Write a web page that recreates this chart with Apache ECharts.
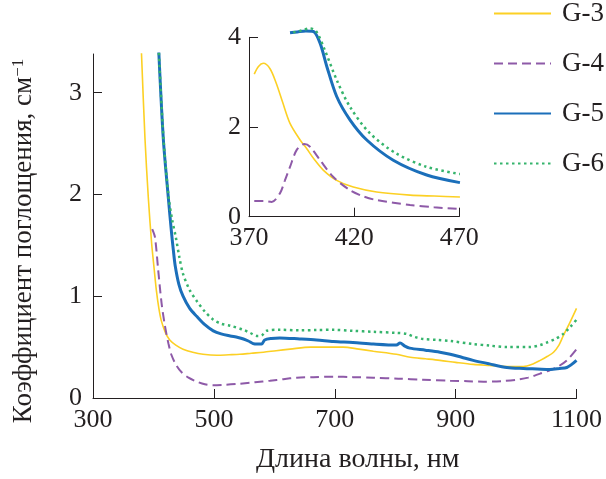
<!DOCTYPE html>
<html>
<head>
<meta charset="utf-8">
<script src="https://cdn.jsdelivr.net/npm/echarts@6/dist/echarts.min.js"></script>
<style>
html, body { margin: 0; padding: 0; background: #fff; }
#chart { width: 606px; height: 479px; }
</style>
</head>
<body>
<div id="chart"></div>
<script>
// series names
var names = ['G-3', 'G-4', 'G-5', 'G-6'];

// main chart, [wavelength nm, coefficient cm-1]
var g3Main = [[380,3.42],[386,2.55],[391.5,1.97],[397,1.52],[401,1.28],[405,1.05],[409,0.88],[413,0.76],[420,0.64],[427,0.57],[437,0.52],[449,0.48],[465,0.45],[482,0.43],[505,0.42],[525,0.425],[543,0.43],[562,0.44],[582,0.45],[603,0.465],[626,0.48],[660,0.5],[690,0.5],[714,0.5],[740,0.48],[764,0.46],[802,0.43],[825,0.4],[850,0.385],[874,0.37],[900,0.35],[929,0.33],[956,0.32],[985,0.31],[1012,0.31],[1028,0.335],[1040,0.37],[1052,0.41],[1062,0.45],[1071,0.52],[1078,0.61],[1089,0.74],[1100,0.88]];
var g4Main = [[398,1.66],[402.5,1.58],[408,1.25],[413.5,0.93],[419,0.71],[425,0.53],[430,0.42],[438,0.32],[447,0.25],[458,0.2],[472,0.16],[485,0.135],[499,0.125],[520,0.13],[543,0.14],[568,0.155],[593,0.17],[615,0.185],[637,0.2],[665,0.205],[698,0.21],[730,0.205],[764,0.2],[805,0.19],[846,0.18],[891,0.17],[920,0.165],[946,0.16],[975,0.165],[1001,0.18],[1020,0.2],[1040,0.24],[1055,0.27],[1067,0.3],[1084,0.37],[1100,0.48]];
var g5Main = [[408.5,3.45],[416.3,2.55],[424.6,1.97],[430,1.62],[433,1.45],[436,1.3],[442,1.12],[449,1.0],[460,0.88],[472,0.8],[485,0.72],[499,0.66],[512,0.63],[527,0.61],[540,0.595],[549,0.58],[557,0.56],[565,0.535],[572,0.53],[579,0.53],[584,0.57],[595,0.585],[609,0.59],[642,0.58],[670,0.57],[698,0.555],[730,0.545],[764,0.53],[802,0.52],[808,0.54],[816,0.51],[824,0.49],[850,0.47],[874,0.45],[891,0.43],[910,0.4],[929,0.37],[956,0.335],[985,0.3],[1012,0.29],[1035,0.285],[1056,0.28],[1072,0.29],[1084,0.3],[1092,0.33],[1100,0.37]];
var g6Main = [[408.5,3.45],[416.5,2.56],[425,1.98],[431,1.75],[437,1.58],[443,1.38],[449,1.22],[460,1.06],[472,0.95],[485,0.85],[499,0.77],[512,0.73],[527,0.71],[549,0.67],[560,0.64],[571,0.61],[579,0.615],[587,0.66],[609,0.67],[642,0.665],[670,0.668],[698,0.67],[730,0.66],[764,0.65],[802,0.64],[819,0.63],[832,0.6],[846,0.58],[870,0.57],[891,0.56],[929,0.53],[956,0.515],[985,0.5],[1023,0.5],[1040,0.52],[1051,0.545],[1065,0.58],[1078,0.63],[1090,0.7],[1100,0.77]];

// inset, 370-470 nm
var g3Inset = [[372.5,3.18],[374.5,3.35],[376.8,3.42],[380,3.3],[383,2.97],[386,2.55],[389.5,2.08],[394.3,1.71],[397.4,1.52],[401,1.28],[405.3,1.04],[411.7,0.81],[419.6,0.66],[430.7,0.55],[446.6,0.48],[458,0.46],[470.3,0.44]];
var g4Inset = [[372.5,0.35],[377,0.35],[380.8,0.33],[384.7,0.52],[387,0.8],[389.5,1.11],[392.7,1.49],[396.3,1.62],[399,1.56],[403.8,1.26],[410,0.89],[418,0.59],[424,0.46],[430.7,0.37],[446.6,0.26],[458,0.21],[470.3,0.17]];
var g5Inset = [[389.5,4.1],[393,4.12],[397,4.14],[400.6,4.13],[403.8,3.87],[407,3.35],[411.7,2.68],[418,2.16],[426,1.71],[438.6,1.26],[454.5,0.93],[470.3,0.76]];
var g6Inset = [[391,4.11],[395,4.15],[399,4.2],[402,4.13],[406,3.72],[411.7,3.05],[418,2.45],[427.5,1.86],[440,1.41],[454.5,1.11],[470.3,0.95]];

var mainYTicks = [0, 1, 2, 3];

var colors = ['#fcd024', '#8e5aa8', '#1b6fba', '#35b46c'];
var lineStyles = [
  { width: 1.6, type: 'solid' },
  { width: 2, type: [9, 5] },
  { width: 3, type: 'solid' },
  { width: 2.5, type: [2.5, 3.5] }
];

var FONT = 'Liberation Serif';
var ink = '#231f20';

function axisBase() {
  return {
    axisLine: { lineStyle: { color: ink, width: 1 } },
    axisTick: { inside: true, length: 9, lineStyle: { color: ink } },
    axisLabel: { color: ink, fontFamily: FONT, fontSize: 26, formatter: function (v) { return String(v); } },
    splitLine: { show: false }
  };
}

var mainX = axisBase();
mainX.type = 'value'; mainX.gridIndex = 0;
mainX.min = 300; mainX.max = 1100; mainX.interval = 200;
mainX.axisLabel.margin = 9;
mainX.name = 'Длина волны, нм';
mainX.nameLocation = 'middle';
mainX.nameGap = 48;
mainX.nameTextStyle = { color: ink, fontFamily: FONT, fontSize: 28, padding: [0, 0, 0, 46] };

var mainY = axisBase();
mainY.type = 'value'; mainY.gridIndex = 0;
mainY.min = 0; mainY.max = 3.38;
mainY.axisTick.customValues = mainYTicks;
mainY.axisLabel.customValues = mainYTicks;
mainY.axisLabel.margin = 11;

var insetX = axisBase();
insetX.type = 'value'; insetX.gridIndex = 1;
insetX.min = 370; insetX.max = 470; insetX.interval = 50;
insetX.axisLabel.margin = 8;

var insetY = axisBase();
insetY.type = 'value'; insetY.gridIndex = 1;
insetY.min = 0; insetY.max = 4; insetY.interval = 2;
insetY.axisLabel.margin = 8;

var mainData = [g3Main, g4Main, g5Main, g6Main];
var insetData = [g3Inset, g4Inset, g5Inset, g6Inset];
var series = [];
names.forEach(function (n, i) {
  series.push({
    name: n, type: 'line', xAxisIndex: 0, yAxisIndex: 0,
    data: mainData[i], showSymbol: false, symbol: 'none', smooth: 0.3,
    lineStyle: { color: colors[i], width: lineStyles[i].width, type: lineStyles[i].type },
    itemStyle: { color: colors[i] }, z: 3 + (i === 3 ? 1 : 0)
  });
});
names.forEach(function (n, i) {
  series.push({
    name: n, type: 'line', xAxisIndex: 1, yAxisIndex: 1,
    data: insetData[i], showSymbol: false, symbol: 'none', smooth: 0.3, clip: false,
    lineStyle: { color: colors[i], width: lineStyles[i].width, type: lineStyles[i].type },
    itemStyle: { color: colors[i] }, z: 3 + (i === 3 ? 1 : 0)
  });
});

var chart = echarts.init(document.getElementById('chart'), null, { renderer: 'canvas' });
chart.setOption({
  animation: false,
  backgroundColor: '#fff',
  grid: [
    { left: 93, top: 54, right: 29.5, bottom: 76 },
    { left: 249, top: 37.3, right: 146.7, bottom: 262.3 }
  ],
  xAxis: [mainX, insetX],
  yAxis: [mainY, insetY],
  legend: {
    data: names,
    orient: 'vertical',
    left: 493, top: 0,
    itemWidth: 57, itemHeight: 14, itemGap: 23,
    padding: 0,
    itemStyle: { opacity: 0 },
    textStyle: { color: ink, fontFamily: FONT, fontSize: 27, padding: [0, 0, 0, 6] }
  },
  graphic: [{
    type: 'text',
    x: 24, y: 241,
    rotation: Math.PI / 2,
    style: {
      text: 'Коэффициент поглощения, см{sup|−1}',
      font: '27px "Liberation Serif"',
      fill: ink,
      align: 'center',
      verticalAlign: 'middle',
      rich: { sup: { fontSize: 17, fontFamily: FONT, fill: ink, verticalAlign: 'top', padding: [0, 0, 10, 0] } }
    }
  }],
  series: series
});
</script>
</body>
</html>
